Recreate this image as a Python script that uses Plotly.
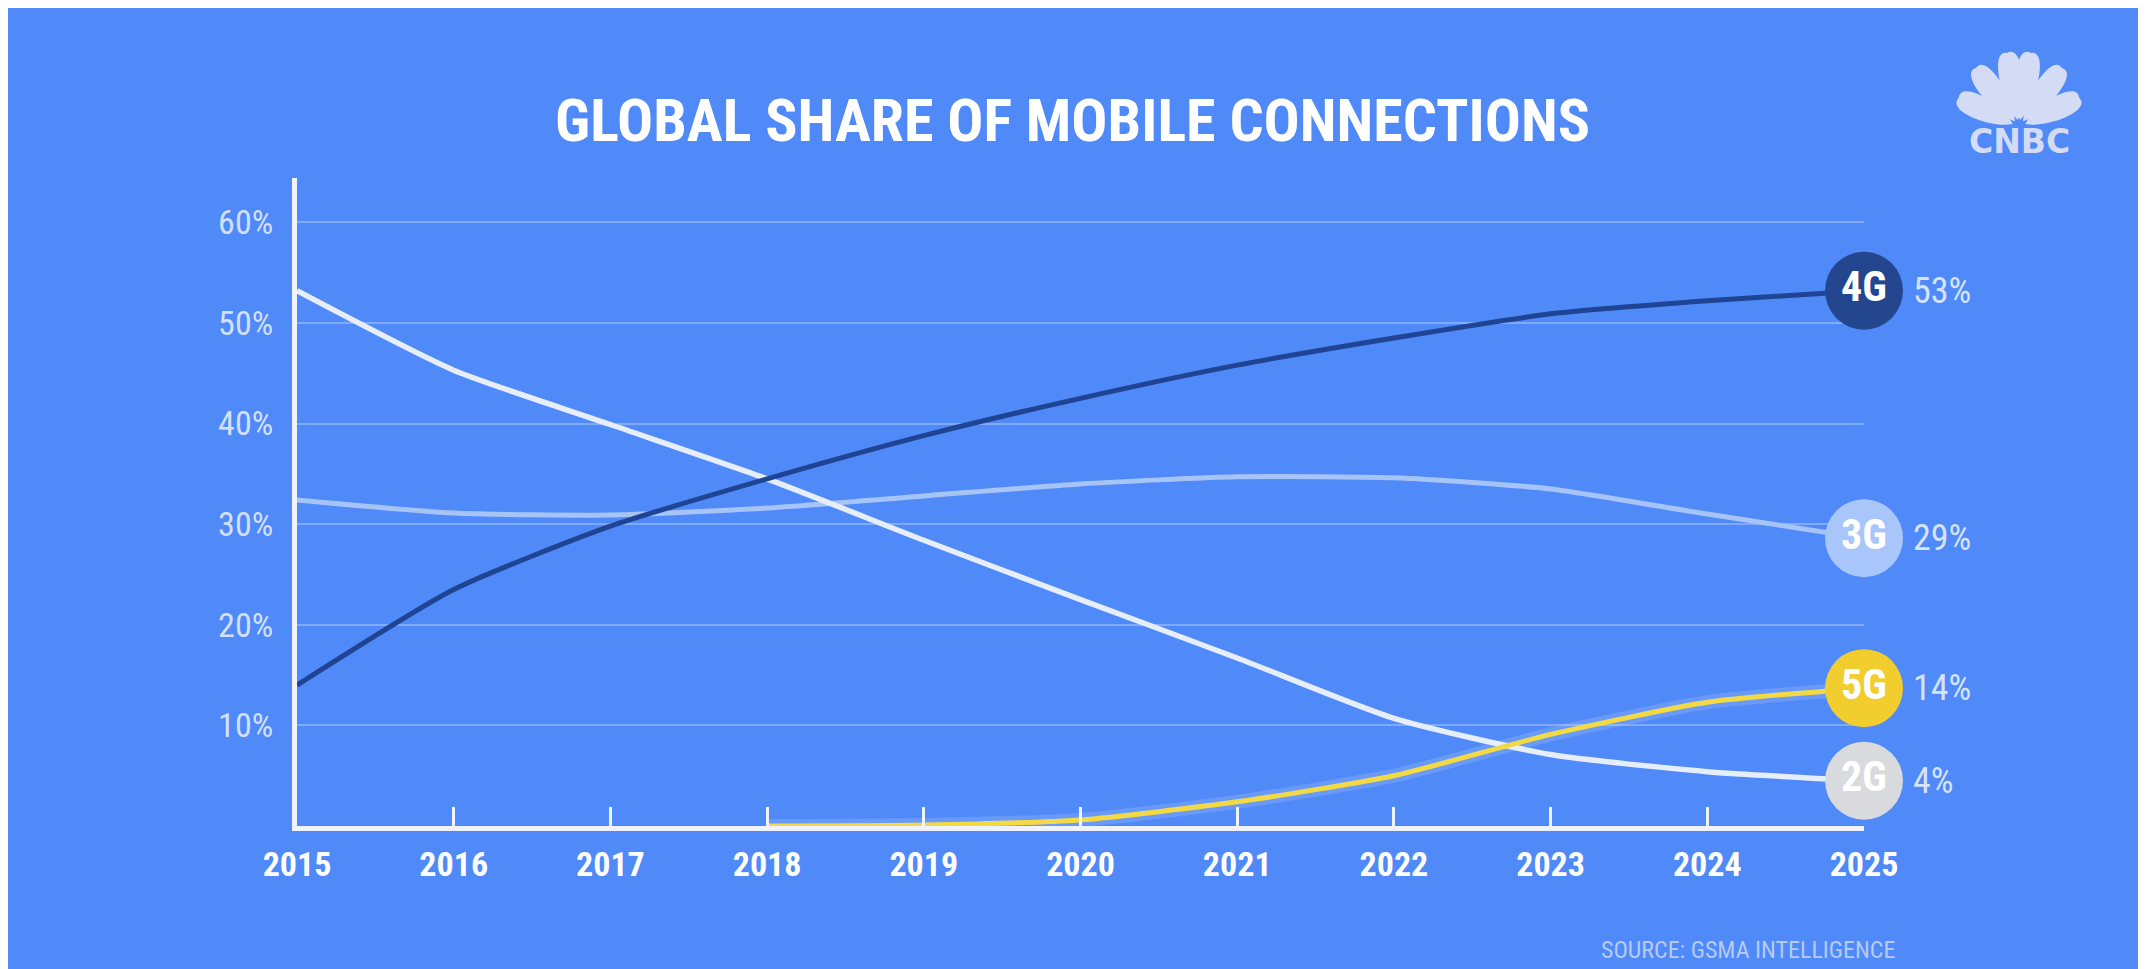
import numpy as np
import plotly.graph_objects as go

# ---------------- data ----------------
years = list(range(2015, 2026))
year_labels = [str(y) for y in years]
share_4g = [14.0, 23.5, 29.8, 34.5, 38.8, 42.5, 45.8, 48.5, 50.9, 52.2, 53.2]
share_3g = [32.4, 31.1, 30.9, 31.6, 32.8, 34.0, 34.7, 34.6, 33.5, 31.0, 28.6]
share_2g = [53.2, 45.3, 39.9, 34.5, 28.4, 22.5, 16.7, 10.7, 7.1, 5.4, 4.5]
share_5g = [None, None, None, 0.0, 0.1, 0.6, 2.4, 5.0, 9.1, 12.3, 13.7]
series_names = ["3G", "2G", "4G", "5G"]
end_labels = {"4G": "53%", "3G": "29%", "5G": "14%", "2G": "4%"}
y_tick_vals = [10, 20, 30, 40, 50, 60]
y_tick_text = ["10%", "20%", "30%", "40%", "50%", "60%"]

series_values = {"4G": share_4g, "3G": share_3g, "2G": share_2g, "5G": share_5g}

# ---------------- style ----------------
W, H = 2135, 961
L, R, T, B = 289, 279, 170, 143
PW, PH = W - L - R, H - T - B
BG = "#5089F8"
NARROW = "Roboto Condensed, Open Sans Condensed, Roboto, sans-serif"
line_colors = {"4G": "#1f4493", "3G": "#a7c4f8", "2G": "#e6edfb", "5G": "#f3da45"}
marker_colors = {"4G": "#24468f", "3G": "#a9c6fa", "2G": "#d8dade", "5G": "#f2cd2e"}


def px2paper(xp, yp):
    return (xp - L) / PW, (H - B - yp) / PH


fig = go.Figure()

# soft glow under 5G line
fig.add_trace(go.Scatter(
    x=years, y=share_5g, mode="lines", line=dict(color="rgba(240,245,255,0.16)", width=14, shape="spline", smoothing=0.6),
    hoverinfo="skip", showlegend=False, cliponaxis=False))

for name in series_names:
    vals = series_values[name]
    fig.add_trace(go.Scatter(
        x=years, y=vals, mode="lines", name=name,
        line=dict(color=line_colors[name], width=5.5 if name == "2G" else 5, shape="spline", smoothing=0.6),
        hoverinfo="skip", showlegend=False, cliponaxis=False))

# end markers with series names inside
for name in ["4G", "3G", "5G", "2G"]:
    vals = series_values[name]
    fig.add_trace(go.Scatter(
        x=[years[-1]], y=[vals[-1]], mode="markers+text", text=[name], textposition="middle center",
        textfont=dict(family=NARROW, size=42, color="white", weight="bold"),
        marker=dict(size=78, color=marker_colors[name], line=dict(width=0)),
        hoverinfo="skip", showlegend=False, cliponaxis=False))
    fig.add_annotation(x=years[-1], y=vals[-1], xref="x", yref="y", text=end_labels[name],
                       showarrow=False, xanchor="left", yanchor="middle", xshift=47,
                       font=dict(family=NARROW, size=36, color="#d6e3fc"))

# title
tx, ty = px2paper(1064, 112)
fig.add_annotation(x=tx, y=ty, xref="paper", yref="paper", text="GLOBAL SHARE OF MOBILE CONNECTIONS",
                   showarrow=False, xanchor="center", yanchor="middle",
                   font=dict(family=NARROW, size=60, color="white", weight="bold"))

# source
sx, sy = px2paper(1740, 942)
fig.add_annotation(x=sx, y=sy, xref="paper", yref="paper", text="SOURCE: GSMA INTELLIGENCE",
                   showarrow=False, xanchor="center", yanchor="middle",
                   font=dict(family=NARROW, size=24, color="#b5cbf3"))

# CNBC logo (decorative)
logo_col = "#d4dcf5"
cx, cy = 2011, 119
angles = [154, 126, 99, 81, 54, 26]
lengths = [60, 66, 68, 68, 66, 60]
wd = 28
for a, ln in zip(angles, lengths):
    u = np.array([np.cos(np.radians(a)), -np.sin(np.radians(a))])
    v = np.array([-u[1], u[0]])
    b0 = np.array([cx, cy]) + 7 * u
    pts = [
        b0,
        b0 + 0.30 * ln * u + 0.50 * wd * v,
        b0 + 1.10 * ln * u + 0.62 * wd * v,
        b0 + ln * u,
        b0 + 1.10 * ln * u - 0.62 * wd * v,
        b0 + 0.30 * ln * u - 0.50 * wd * v,
        b0,
    ]
    pp = [px2paper(p[0], p[1]) for p in pts]
    path = (f"M {pp[0][0]},{pp[0][1]} C {pp[1][0]},{pp[1][1]} {pp[2][0]},{pp[2][1]} {pp[3][0]},{pp[3][1]} "
            f"C {pp[4][0]},{pp[4][1]} {pp[5][0]},{pp[5][1]} {pp[6][0]},{pp[6][1]} Z")
    fig.add_shape(type="path", path=path, xref="paper", yref="paper", fillcolor=logo_col,
                  line=dict(width=0), layer="above")
lx, ly = px2paper(2011, 133)
fig.add_annotation(x=lx, y=ly, xref="paper", yref="paper", text="CNBC", showarrow=False,
                   xanchor="center", yanchor="middle",
                   font=dict(family="DejaVu Sans, Liberation Sans, sans-serif", size=33, color=logo_col, weight="bold"))

fig.update_layout(
    width=W, height=H, margin=dict(l=L, r=R, t=T, b=B, pad=0),
    paper_bgcolor=BG, plot_bgcolor=BG, showlegend=False,
    xaxis=dict(range=[2015, 2025], tickvals=years, ticktext=year_labels,
               showgrid=False, zeroline=False, showline=True, linecolor="#eef3ff", linewidth=5,
               ticks="inside", ticklen=19, tickwidth=3, tickcolor="#eef3ff",
               tickfont=dict(family=NARROW, size=34, color="white", weight="bold"),
               ticklabelstandoff=4, fixedrange=True),
    yaxis=dict(range=[0, 64.4], tickvals=y_tick_vals, ticktext=y_tick_text,
               showgrid=True, gridcolor="rgba(255,255,255,0.28)", gridwidth=2,
               zeroline=False, showline=True, linecolor="#eef3ff", linewidth=5, ticks="",
               tickfont=dict(family=NARROW, size=34, color="#d3e0fb"),
               ticklabelstandoff=12, fixedrange=True),
)

fig.write_html("out.html")
